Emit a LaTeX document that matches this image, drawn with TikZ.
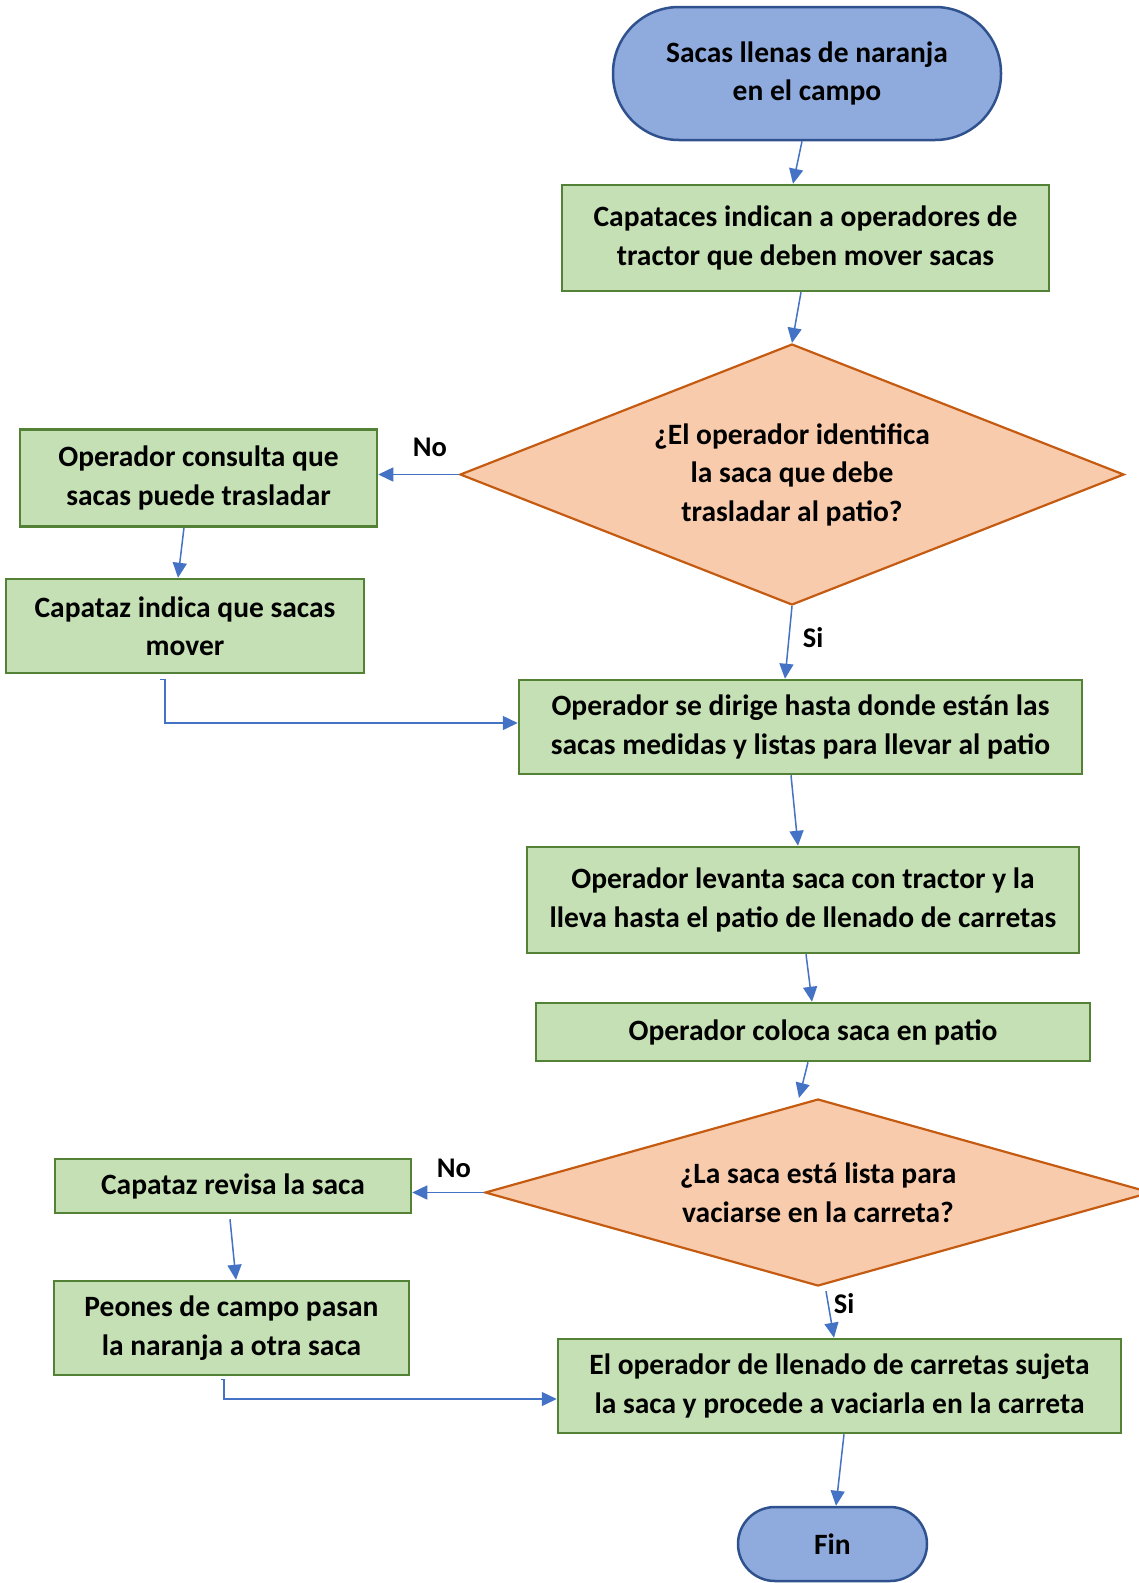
\documentclass[tikz,border=0pt]{standalone}
\usepackage{fontspec}
\setmainfont{Carlito}
\usetikzlibrary{shapes.geometric,arrows.meta}

\definecolor{azulterm}{HTML}{8FAADC}
\definecolor{azulborde}{HTML}{2F528F}
\definecolor{verdecaja}{HTML}{C5E0B4}
\definecolor{verdeborde}{HTML}{538135}
\definecolor{naranjadec}{HTML}{F8CBAD}
\definecolor{naranjaborde}{HTML}{C55A11}
\definecolor{azulflecha}{HTML}{4472C4}

\tikzset{
  texto/.style={font=\bfseries\fontsize{29.5}{38.5}\selectfont,align=center,text=black},
  terminal/.style={texto,draw=azulborde,fill=azulterm,line width=2.5pt,inner sep=0pt},
  proceso/.style={texto,rectangle,draw=verdeborde,fill=verdecaja,line width=2.5pt,inner sep=0pt},
  decision/.style={texto,diamond,draw=naranjaborde,fill=naranjadec,line width=2.2pt,inner sep=0pt},
  flecha/.style={draw=azulflecha,line width=1.5pt,-{Triangle[length=15pt,width=14pt]}},
  etiqueta/.style={font=\bfseries\fontsize{28.5}{32}\selectfont}
}

\begin{document}
\begin{tikzpicture}[x=1pt,y=-1pt]
\useasboundingbox (0,0) rectangle (1139,1583);
% inicio y primer paso
\node[terminal,minimum width=388,minimum height=133,rounded corners=66] (inicio) at (807,73.5) {Sacas llenas de naranja\\en el campo};
\node[proceso,minimum width=487,minimum height=106] (capataces) at (805.5,238) {Capataces indican a operadores de\\tractor que deben mover sacas};
% primera decision
\node[decision,aspect=2.5,minimum width=664,minimum height=261] (dec1) at (792,474.5) {¿El operador identifica\\la saca que debe\\trasladar al patio?};
\node[proceso,minimum width=357,minimum height=97] (consulta) at (198.5,478) {Operador consulta que\\sacas puede trasladar};
\node[proceso,minimum width=358,minimum height=94] (capindica) at (185,626) {Capataz indica que sacas\\mover};
% rama principal
\node[proceso,minimum width=563,minimum height=94] (dirige) at (800.5,727) {Operador se dirige hasta donde están las\\sacas medidas y listas para llevar al patio};
\node[proceso,minimum width=552,minimum height=106] (levanta) at (803,900) {Operador levanta saca con tractor y la\\lleva hasta el patio de llenado de carretas};
\node[proceso,minimum width=554,minimum height=58] (coloca) at (813,1032) {Operador coloca saca en patio};
% segunda decision
\node[decision,aspect=3.5,minimum width=666,minimum height=187] (dec2) at (818,1192.5) {¿La saca está lista para\\vaciarse en la carreta?};
\node[proceso,minimum width=356,minimum height=54] (revisa) at (233,1186) {Capataz revisa la saca};
\node[proceso,minimum width=355,minimum height=94] (peones) at (231.5,1328) {Peones de campo pasan\\la naranja a otra saca};
\node[proceso,minimum width=563,minimum height=94] (llenado) at (839.5,1386) {El operador de llenado de carretas sujeta\\la saca y procede a vaciarla en la carreta};
\node[terminal,minimum width=189,minimum height=74,rounded corners=37] (fin) at (832.5,1544) {Fin};

% conectores
\draw[flecha] ([xshift=-5]inicio.south) -- ([xshift=-12.5]capataces.north);
\draw[flecha] ([xshift=-4.5]capataces.south) -- (dec1.north);
\draw[flecha] (dec1.west) -- (dec1.west -| consulta.east);
\draw[flecha] ([xshift=-14.5]consulta.south) -- ([xshift=-7]capindica.north);
\draw[flecha] ([xshift=-25,yshift=-5]capindica.south) -- ++(5,0) |- ([yshift=4]dirige.west);
\draw[flecha] (dec1.south) -- ([xshift=-15.5]dirige.north);
\draw[flecha] ([xshift=-9.5]dirige.south) -- ([xshift=-5]levanta.north);
\draw[flecha] ([xshift=3]levanta.south) -- ([xshift=-1]coloca.north);
\draw[flecha] ([xshift=-5]coloca.south) -- ([xshift=-19]dec2.north);
\draw[flecha] (dec2.west) -- (dec2.west -| revisa.east);
\draw[flecha] ([xshift=-3,yshift=-5]revisa.south) -- ([xshift=4.5]peones.north);
\draw[flecha] ([xshift=-10.5,yshift=-3]peones.south) -- ++(3,0) |- ([yshift=-13]llenado.west);
\draw[flecha] ([xshift=8,yshift=-4]dec2.south) -- ([xshift=-5.5]llenado.north);
\draw[flecha] ([xshift=4.5]llenado.south) -- ([xshift=3.5]fin.north);

% etiquetas de las ramas
\node[etiqueta] (no1) at (430,447) {No};
\node[etiqueta] (si1) at (813,638) {Si};
\node[etiqueta] (no2) at (454,1168) {No};
\node[etiqueta] (si2) at (844,1304) {Si};
\end{tikzpicture}
\end{document}
